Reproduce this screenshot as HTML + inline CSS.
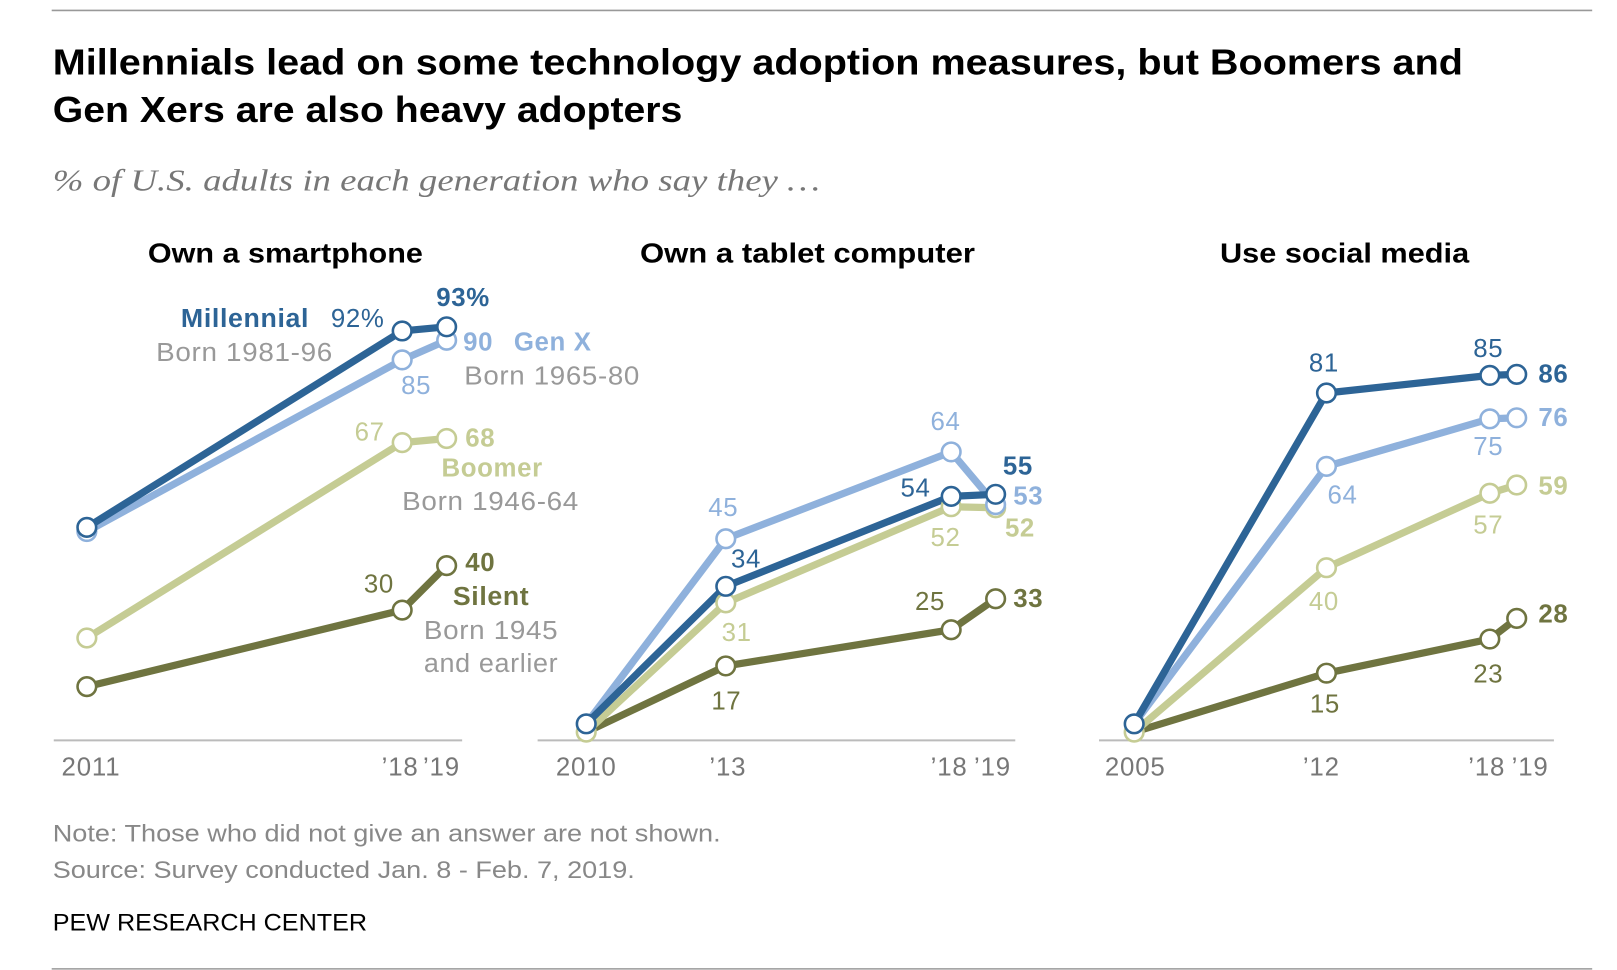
<!DOCTYPE html>
<html><head><meta charset="utf-8"><style>
html,body{margin:0;padding:0;background:#fff;}
svg{display:block;}
text{font-family:"Liberation Sans",sans-serif;}
.b{font-weight:bold;}
</style></head><body>
<svg width="1617" height="970" viewBox="0 0 1564 938" xmlns="http://www.w3.org/2000/svg">
<line x1="50" y1="10" x2="1540" y2="10" stroke="#999" stroke-width="1.5"/>
<line x1="50" y1="937" x2="1540" y2="937" stroke="#999" stroke-width="1.5"/>
<text x="51" y="72" font-size="35" class="b" fill="#000" textLength="1364" lengthAdjust="spacingAndGlyphs">Millennials lead on some technology adoption measures, but Boomers and</text>
<text x="51" y="118" font-size="35" class="b" fill="#000" textLength="609" lengthAdjust="spacingAndGlyphs">Gen Xers are also heavy adopters</text>
<text x="51" y="184" font-size="30" font-style="italic" fill="#777" style="font-family:'Liberation Serif',serif" textLength="742" lengthAdjust="spacingAndGlyphs">% of U.S. adults in each generation who say they …</text>
<text x="143" y="254" font-size="27" class="b" fill="#000" textLength="266" lengthAdjust="spacingAndGlyphs">Own a smartphone</text>
<text x="619" y="254" font-size="27" class="b" fill="#000" textLength="324" lengthAdjust="spacingAndGlyphs">Own a tablet computer</text>
<text x="1180" y="254" font-size="27" class="b" fill="#000" textLength="241" lengthAdjust="spacingAndGlyphs">Use social media</text>
<g stroke="#bbb" stroke-width="2">
<line x1="52" y1="716" x2="447" y2="716"/><line x1="520" y1="716" x2="982" y2="716"/><line x1="1063" y1="716" x2="1503" y2="716"/>
</g>
<g font-size="25" fill="#777" letter-spacing="0.8">
<text x="88" y="750" text-anchor="middle">2011</text><text x="387" y="750" text-anchor="middle">’18</text><text x="427" y="750" text-anchor="middle">’19</text>
<text x="567" y="750" text-anchor="middle">2010</text><text x="704" y="750" text-anchor="middle">’13</text><text x="918" y="750" text-anchor="middle">’18</text><text x="960" y="750" text-anchor="middle">’19</text>
<text x="1098" y="750" text-anchor="middle">2005</text><text x="1278" y="750" text-anchor="middle">’12</text><text x="1438" y="750" text-anchor="middle">’18</text><text x="1480" y="750" text-anchor="middle">’19</text>
</g>
<g fill="none" stroke-width="7" stroke-linejoin="round">
<polyline stroke="#6f7440" points="84,664 389,590 432,547"/>
<polyline stroke="#c5cc94" points="84,617 389,428 432,424"/>
<polyline stroke="#8fb1dc" points="84,514 389,348 432,329"/>
<polyline stroke="#2d6496" points="84,510 389,320 432,316"/>
<polyline stroke="#6f7440" points="567,708 702,644 920,609 963,579"/>
<polyline stroke="#c5cc94" points="567,708 702,583 920,490 963,491"/>
<polyline stroke="#8fb1dc" points="567,700 702,521 920,437 963,488"/>
<polyline stroke="#2d6496" points="567,700 702,567 920,480 963,478"/>
<polyline stroke="#6f7440" points="1097,708 1283,651 1441,618 1467,598"/>
<polyline stroke="#c5cc94" points="1097,708 1283,549 1441,477 1467,469"/>
<polyline stroke="#8fb1dc" points="1097,700 1283,451 1441,405 1467,404"/>
<polyline stroke="#2d6496" points="1097,700 1283,380 1441,363 1467,362"/>
</g>
<g fill="#fff" stroke-width="2.5">
<g stroke="#6f7440"><circle cx="84" cy="664" r="9"/><circle cx="389" cy="590" r="9"/><circle cx="432" cy="547" r="9"/><circle cx="702" cy="644" r="9"/><circle cx="920" cy="609" r="9"/><circle cx="963" cy="579" r="9"/><circle cx="1283" cy="651" r="9"/><circle cx="1441" cy="618" r="9"/><circle cx="1467" cy="598" r="9"/></g>
<g stroke="#c5cc94"><circle cx="84" cy="617" r="9"/><circle cx="389" cy="428" r="9"/><circle cx="432" cy="424" r="9"/><circle cx="567" cy="708" r="9"/><circle cx="702" cy="583" r="9"/><circle cx="920" cy="490" r="9"/><circle cx="963" cy="491" r="9"/><circle cx="1097" cy="708" r="9"/><circle cx="1283" cy="549" r="9"/><circle cx="1441" cy="477" r="9"/><circle cx="1467" cy="469" r="9"/></g>
<g stroke="#8fb1dc"><circle cx="84" cy="514" r="9"/><circle cx="389" cy="348" r="9"/><circle cx="432" cy="329" r="9"/><circle cx="702" cy="521" r="9"/><circle cx="920" cy="437" r="9"/><circle cx="963" cy="488" r="9"/><circle cx="1283" cy="451" r="9"/><circle cx="1441" cy="405" r="9"/><circle cx="1467" cy="404" r="9"/></g>
<g stroke="#2d6496"><circle cx="84" cy="510" r="9"/><circle cx="389" cy="320" r="9"/><circle cx="432" cy="316" r="9"/><circle cx="567" cy="700" r="9"/><circle cx="702" cy="567" r="9"/><circle cx="920" cy="480" r="9"/><circle cx="963" cy="478" r="9"/><circle cx="1097" cy="700" r="9"/><circle cx="1283" cy="380" r="9"/><circle cx="1441" cy="363" r="9"/><circle cx="1467" cy="362" r="9"/></g>
</g>
<g font-size="25" letter-spacing="0.6">
<text x="175" y="316" class="b" fill="#2d6496" textLength="124" lengthAdjust="spacingAndGlyphs">Millennial</text>
<text x="320" y="316" fill="#2d6496">92%</text>
<text x="422" y="296" class="b" fill="#2d6496">93%</text>
<text x="151" y="349" fill="#999" textLength="171" lengthAdjust="spacingAndGlyphs">Born 1981-96</text>
<text x="448" y="339" class="b" fill="#8fb1dc">90</text><text x="497" y="339" class="b" fill="#8fb1dc">Gen X</text>
<text x="388" y="381" fill="#8fb1dc">85</text>
<text x="449" y="372" fill="#999" textLength="170" lengthAdjust="spacingAndGlyphs">Born 1965-80</text>
<text x="343" y="426" fill="#c5cc94">67</text>
<text x="450" y="432" class="b" fill="#c5cc94">68</text>
<text x="427" y="461" class="b" fill="#c5cc94" textLength="98" lengthAdjust="spacingAndGlyphs">Boomer</text>
<text x="389" y="493" fill="#999" textLength="171" lengthAdjust="spacingAndGlyphs">Born 1946-64</text>
<text x="352" y="573" fill="#6f7440">30</text>
<text x="450" y="552" class="b" fill="#6f7440">40</text>
<text x="438" y="585" class="b" fill="#6f7440" textLength="74" lengthAdjust="spacingAndGlyphs">Silent</text>
<text x="410" y="618" fill="#999" textLength="130" lengthAdjust="spacingAndGlyphs">Born 1945</text>
<text x="410" y="650" fill="#999" textLength="130" lengthAdjust="spacingAndGlyphs">and earlier</text>

<text x="685" y="499" fill="#8fb1dc">45</text>
<text x="707" y="549" fill="#2d6496">34</text>
<text x="698" y="620" fill="#c5cc94">31</text>
<text x="688" y="686" fill="#6f7440">17</text>
<text x="900" y="416" fill="#8fb1dc">64</text>
<text x="871" y="480" fill="#2d6496">54</text>
<text x="900" y="528" fill="#c5cc94">52</text>
<text x="885" y="590" fill="#6f7440">25</text>
<text x="970" y="459" class="b" fill="#2d6496">55</text>
<text x="980" y="488" class="b" fill="#8fb1dc">53</text>
<text x="972" y="519" class="b" fill="#c5cc94">52</text>
<text x="980" y="587" class="b" fill="#6f7440">33</text>

<text x="1266" y="359" fill="#2d6496">81</text>
<text x="1284" y="487" fill="#8fb1dc">64</text>
<text x="1266" y="590" fill="#c5cc94">40</text>
<text x="1267" y="689" fill="#6f7440">15</text>
<text x="1425" y="345" fill="#2d6496">85</text>
<text x="1425" y="440" fill="#8fb1dc">75</text>
<text x="1425" y="516" fill="#c5cc94">57</text>
<text x="1425" y="660" fill="#6f7440">23</text>
<text x="1488" y="370" class="b" fill="#2d6496">86</text>
<text x="1488" y="412" class="b" fill="#8fb1dc">76</text>
<text x="1488" y="478" class="b" fill="#c5cc94">59</text>
<text x="1488" y="602" class="b" fill="#6f7440">28</text>
</g>
<text x="51" y="814" font-size="23" fill="#888" textLength="646" lengthAdjust="spacingAndGlyphs">Note: Those who did not give an answer are not shown.</text>
<text x="51" y="849" font-size="23" fill="#888" textLength="563" lengthAdjust="spacingAndGlyphs">Source: Survey conducted Jan. 8 - Feb. 7, 2019.</text>
<text x="51" y="900" font-size="23" fill="#000" textLength="304" lengthAdjust="spacingAndGlyphs">PEW RESEARCH CENTER</text>
</svg>
</body></html>
